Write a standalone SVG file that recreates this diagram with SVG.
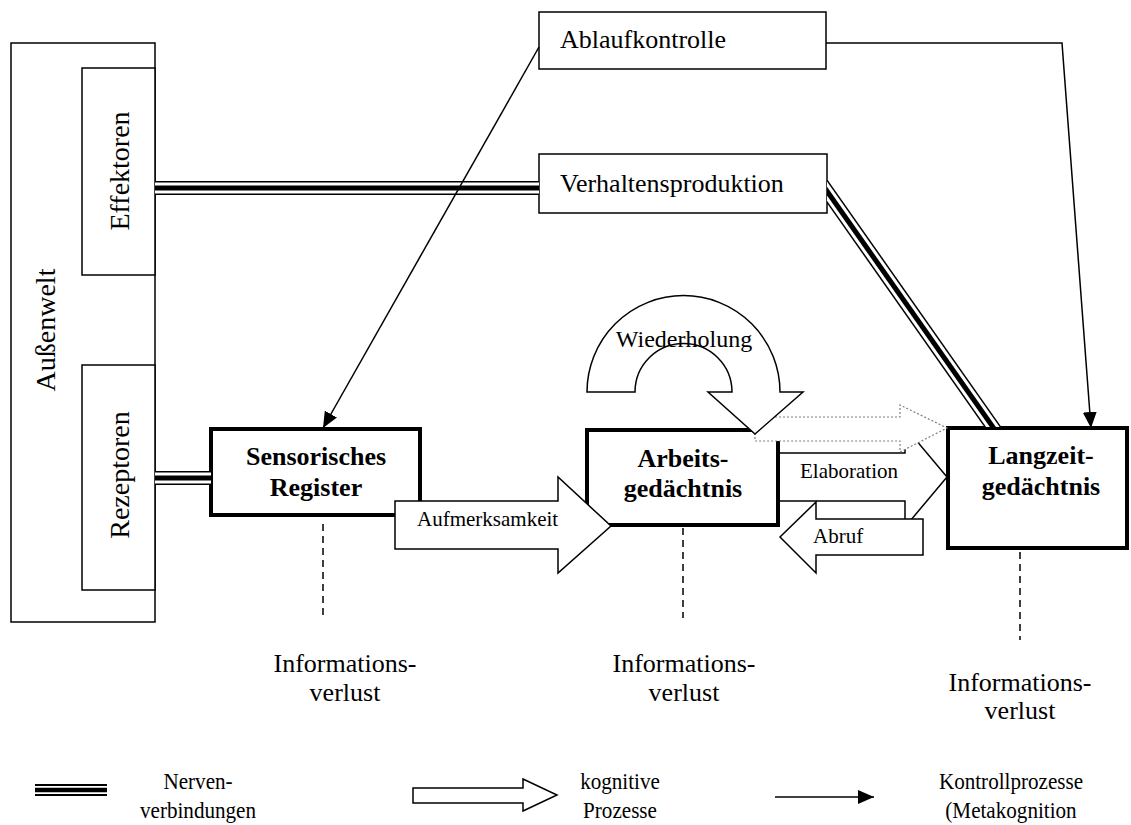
<svg xmlns="http://www.w3.org/2000/svg" width="1131" height="825" viewBox="0 0 1131 825" font-family="'Liberation Serif', 'Times New Roman', serif">
  <style>
    text { font-family: "Liberation Serif", "Times New Roman", serif; fill: #000; }
    .lbl { font-size: 26px; }
    .rot { font-size: 28px; text-anchor: middle; }
    .bold { font-size: 26px; font-weight: bold; text-anchor: middle; }
    .small { font-size: 21px; }
    .mid { text-anchor: middle; }
    .box { fill: #fff; stroke: #000; stroke-width: 1.5; }
    .thick { fill: #fff; stroke: #000; stroke-width: 4; }
    .hollow { fill: #fff; stroke: #000; stroke-width: 1.5; stroke-linejoin: miter; }
    .dotted { fill: #fff; stroke: #808080; stroke-width: 1.2; stroke-dasharray: 2 2; }
    .ctrl { fill: none; stroke: #000; stroke-width: 1.5; marker-end: url(#ah); }
    .dash { fill: none; stroke: #000; stroke-width: 1.5; stroke-dasharray: 7 5; }
    .n-out { fill: none; stroke: #000; stroke-width: 14; }
    .n-gap { fill: none; stroke: #fff; stroke-width: 11; }
    .n-core { fill: none; stroke: #000; stroke-width: 5; }
  </style>
  <defs>
    <marker id="ah" markerWidth="16" markerHeight="14" refX="16" refY="7" orient="auto" markerUnits="userSpaceOnUse">
      <path d="M0,0 L16,7 L0,14 Z" fill="#000"/>
    </marker>
    <clipPath id="diagClip">
      <rect x="827" y="0" width="304" height="427"/>
    </clipPath>
    <path id="nerveTop" d="M155,188 H539"/>
    <path id="nerveRez" d="M155,478 H211"/>
    <path id="nerveDiag" d="M822,184 L995,430"/>
  </defs>
  <rect width="1131" height="825" fill="#fff"/>

  <!-- outer world with effectors and receptors -->
  <g id="aussenwelt">
    <rect class="box" x="11" y="43" width="144" height="579"/>
    <text class="rot" transform="translate(55,330) rotate(-90)">Außenwelt</text>
  </g>
  <g id="effektoren">
    <rect class="box" x="82" y="68" width="73" height="207"/>
    <text class="rot" transform="translate(129,171) rotate(-90)">Effektoren</text>
  </g>
  <g id="rezeptoren">
    <rect class="box" x="82" y="365" width="73" height="225"/>
    <text class="rot" transform="translate(129,475) rotate(-90)">Rezeptoren</text>
  </g>

  <g id="ablaufkontrolle">
    <rect class="box" x="539" y="12" width="287" height="57"/>
    <text class="lbl" x="560" y="48">Ablaufkontrolle</text>
  </g>
  <g id="verhaltensproduktion">
    <rect class="box" x="539" y="154" width="288" height="59"/>
    <text class="lbl" x="560" y="192">Verhaltensproduktion</text>
  </g>

  <g id="sensorisches-register">
    <rect class="thick" x="211" y="429" width="209" height="86"/>
    <text class="bold" x="316" y="465">Sensorisches</text>
    <text class="bold" x="316" y="496">Register</text>
  </g>
  <g id="arbeitsgedaechtnis">
    <rect class="thick" x="587" y="430" width="191" height="95"/>
    <text class="bold" x="683" y="467">Arbeits-</text>
    <text class="bold" x="683" y="497">gedächtnis</text>
  </g>
  <g id="langzeitgedaechtnis">
    <rect class="thick" x="948" y="428" width="179" height="120"/>
    <text class="bold" x="1041" y="464">Langzeit-</text>
    <text class="bold" x="1041" y="495">gedächtnis</text>
  </g>

  <!-- connectors -->
  <g id="connectors">
    <!-- nerve connections (triple lines) -->
    <use href="#nerveTop" class="n-out"/>
    <use href="#nerveTop" class="n-gap"/>
    <use href="#nerveTop" class="n-core"/>
    <use href="#nerveRez" class="n-out"/>
    <use href="#nerveRez" class="n-gap"/>
    <use href="#nerveRez" class="n-core"/>
    <g clip-path="url(#diagClip)">
      <use href="#nerveDiag" class="n-out"/>
      <use href="#nerveDiag" class="n-gap"/>
      <use href="#nerveDiag" class="n-core"/>
    </g>

    <!-- control processes -->
    <path class="ctrl" d="M539,47 L323,428"/>
    <path class="ctrl" d="M826,43 H1062 L1091,428"/>

    <!-- information loss -->
    <path class="dash" d="M323,524 V618"/>
    <path class="dash" d="M683,528 V618"/>
    <path class="dash" d="M1020,552 V640"/>

    <!-- cognitive processes -->
    <g id="elaboration">
      <path class="hollow" d="M780,453 H905 V427 L947,477 L905,527 V501 H780"/>
      <text class="small" x="800" y="478">Elaboration</text>
    </g>
    <g id="abruf">
      <path class="hollow" d="M923,519 V555 H816 V573 L780,537 L816,502 V519 Z"/>
      <text class="small" x="813" y="543">Abruf</text>
    </g>
    <path class="dotted" d="M755,417 H900 V405 L947,428 L900,452 V441 H755 Z"/>
    <g id="wiederholung">
      <path class="hollow" d="M587,392 A96.5,96.5 0 0 1 780,392 L803,392 L755,434 L708,392 L732,392 A48.5,48.5 0 0 0 635,392 Z"/>
      <text x="684" y="347" class="mid" font-size="24">Wiederholung</text>
    </g>
    <g id="aufmerksamkeit">
      <path class="hollow" d="M395,501 H558 V477 L611,526 L558,573 V549 H395 Z"/>
      <text class="small" x="417" y="526">Aufmerksamkeit</text>
    </g>
  </g>

  <g id="informationsverlust">
    <text class="lbl mid" x="345" y="672">Informations-</text>
    <text class="lbl mid" x="345" y="701">verlust</text>
    <text class="lbl mid" x="684" y="672">Informations-</text>
    <text class="lbl mid" x="684" y="701">verlust</text>
    <text class="lbl mid" x="1020" y="691">Informations-</text>
    <text class="lbl mid" x="1020" y="719">verlust</text>
  </g>

  <!-- legend -->
  <g id="legend">
    <path d="M35,790 H107" fill="none" stroke="#000" stroke-width="12"/>
    <path d="M35,790 H107" fill="none" stroke="#fff" stroke-width="8"/>
    <path d="M35,790 H107" fill="none" stroke="#000" stroke-width="4.5"/>
    <g transform="translate(198,0) scale(0.88,1)">
      <text class="mid" x="0" y="789" font-size="24">Nerven-</text>
      <text class="mid" x="0" y="818" font-size="24">verbindungen</text>
    </g>
    <path class="hollow" d="M413,788 H523 V779 L557,795 L523,811 V803 H413 Z"/>
    <g transform="translate(620,0) scale(0.88,1)">
      <text class="mid" x="0" y="789" font-size="24">kognitive</text>
      <text class="mid" x="0" y="818" font-size="24">Prozesse</text>
    </g>
    <path class="ctrl" d="M775,797 H874"/>
    <g transform="translate(1011,0) scale(0.88,1)">
      <text class="mid" x="0" y="789" font-size="24">Kontrollprozesse</text>
      <text class="mid" x="0" y="818" font-size="24">(Metakognition</text>
    </g>
  </g>
</svg>
